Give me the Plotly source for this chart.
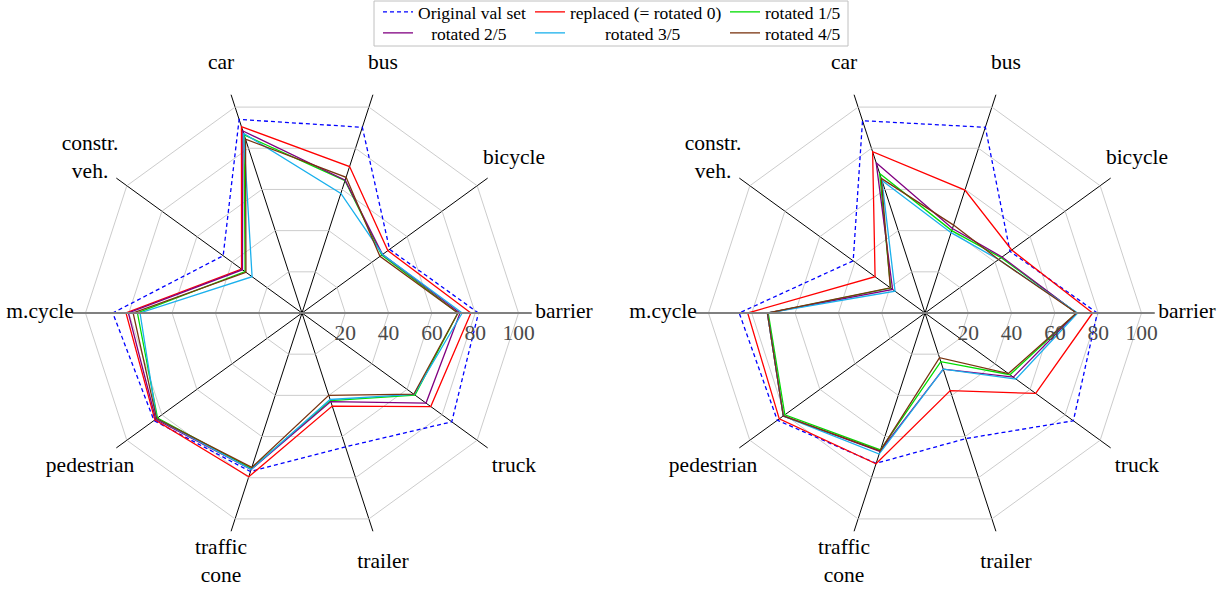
import plotly.graph_objects as go

categories = ["barrier", "bicycle", "bus", "car", "constr.<br>veh.", "m.cycle",
              "pedestrian", "traffic<br>cone", "trailer", "truck"]
series_names = ["Original val set", "replaced (= rotated 0)", "rotated 1/5",
                "rotated 2/5", "rotated 3/5", "rotated 4/5"]
radial_ticks = [20, 40, 60, 80, 100]

# Left chart values (order follows categories)
left_original = [81.5, 50.0, 90.2, 94.0, 45.0, 87.4, 84.5, 77.0, 65.0, 85.5]
left_replaced = [78.0, 49.0, 71.1, 90.5, 34.5, 81.3, 84.0, 79.5, 45.2, 73.5]
left_rot1 = [72.0, 45.5, 64.3, 86.5, 32.5, 76.0, 82.5, 75.5, 42.5, 64.5]
left_rot2 = [73.0, 46.0, 64.5, 88.4, 34.0, 80.2, 83.5, 76.0, 43.0, 70.8]
left_rot3 = [74.0, 46.0, 58.1, 87.3, 28.5, 74.8, 83.0, 76.0, 42.0, 64.0]
left_rot4 = [72.0, 44.5, 65.9, 84.4, 32.0, 78.0, 83.0, 75.0, 40.0, 63.8]

# Right chart values
right_original = [79.6, 48.5, 90.2, 93.4, 41.0, 85.8, 84.3, 73.0, 61.0, 84.7]
right_replaced = [77.4, 49.5, 59.7, 78.3, 28.5, 81.9, 83.2, 73.2, 37.7, 63.2]
right_rot1 = [70.0, 43.5, 40.0, 67.8, 19.6, 72.4, 80.0, 66.5, 23.6, 48.5]
right_rot2 = [70.0, 44.0, 41.0, 73.0, 18.5, 72.8, 80.9, 67.2, 27.3, 50.4]
right_rot3 = [70.5, 42.0, 39.0, 64.3, 17.1, 72.8, 80.9, 68.5, 27.3, 51.9]
right_rot4 = [70.0, 42.0, 42.7, 65.4, 19.8, 72.8, 80.9, 67.0, 21.7, 47.6]

left_series = [left_original, left_replaced, left_rot1, left_rot2, left_rot3, left_rot4]
right_series = [right_original, right_replaced, right_rot1, right_rot2, right_rot3, right_rot4]

colors = ["#0000ff", "#ff0000", "#00dd00", "#800080", "#1ab0ec", "#7a3410"]
dashes = ["4px,3px", "solid", "solid", "solid", "solid", "solid"]

SERIF = "Liberation Serif, Times New Roman, serif"
R_MAX = 106          # extent of the spokes
LABEL_R = 121        # radius at which category labels are centred
LABEL_RANGE = 130    # range of the invisible label layer
W, H = 1231, 598
rad_px = 229.5
label_rad_px = rad_px * LABEL_RANGE / R_MAX

# legend cell layout: (left px, centre y px, leading pad spaces)
legend_cells = [(378, 12, 0), (530, 12, 0), (725, 12, 0),
                (378, 33, 3), (530, 33, 8), (725, 33, 0)]
legend_ids = ["legend"] + ["legend%d" % k for k in range(2, 7)]

fig = go.Figure()
theta_closed = categories + [categories[0]]

for i, name in enumerate(series_names):
    vals = left_series[i]
    pad = "\u00a0" * legend_cells[i][2]
    fig.add_trace(go.Scatterpolar(
        r=vals + [vals[0]], theta=theta_closed, mode="lines", name=pad + name,
        line=dict(color=colors[i], width=1.3, dash=dashes[i]),
        subplot="polar", legend=legend_ids[i], showlegend=True))
for i, name in enumerate(series_names):
    vals = right_series[i]
    fig.add_trace(go.Scatterpolar(
        r=vals + [vals[0]], theta=theta_closed, mode="lines", name=name,
        line=dict(color=colors[i], width=1.3, dash=dashes[i]),
        subplot="polar2", showlegend=False))
# empty traces to activate overlay subplots carrying the left half of the axis line
for sp in ["polar3", "polar4"]:
    fig.add_trace(go.Scatterpolar(r=[], theta=[], subplot=sp, showlegend=False))
# category labels, centred on a circle outside the axes (invisible wider layer)
for sp in ["polar5", "polar6"]:
    fig.add_trace(go.Scatterpolar(
        r=[LABEL_R] * len(categories), theta=categories, text=categories,
        mode="text", textposition="middle center", cliponaxis=False,
        textfont=dict(family=SERIF, size=21.5, color="black"),
        hoverinfo="skip", subplot=sp, showlegend=False))


def domain(cx, cy, rp):
    return dict(x=[(cx - rp) / W, (cx + rp) / W],
                y=[(H - cy - rp) / H, (H - cy + rp) / H])


def polar_layout(cx, cy):
    return dict(
        domain=domain(cx, cy, rad_px),
        bgcolor="white",
        gridshape="linear",
        radialaxis=dict(range=[0, R_MAX], tickvals=radial_ticks, angle=0,
                        showline=True, linecolor="#808080", linewidth=2,
                        gridcolor="#cccccc", gridwidth=1, ticks="",
                        tickfont=dict(family=SERIF, size=21.5, color="#4a4a4a")),
        angularaxis=dict(categoryorder="array", categoryarray=categories,
                         direction="counterclockwise", rotation=0,
                         showline=False, gridcolor="#000000", gridwidth=1,
                         ticks="", showticklabels=False),
    )


def overlay_layout(cx, cy):
    return dict(
        domain=domain(cx, cy, rad_px),
        bgcolor="rgba(0,0,0,0)",
        gridshape="linear",
        radialaxis=dict(range=[0, R_MAX], angle=180, showline=True,
                        linecolor="#808080", linewidth=2, showgrid=False,
                        showticklabels=False, ticks=""),
        angularaxis=dict(visible=False, showgrid=False, showline=False,
                         direction="counterclockwise", rotation=0),
    )


def label_layout(cx, cy):
    return dict(
        domain=domain(cx, cy, label_rad_px),
        bgcolor="rgba(0,0,0,0)",
        radialaxis=dict(range=[0, LABEL_RANGE], visible=False),
        angularaxis=dict(categoryorder="array", categoryarray=categories,
                         direction="counterclockwise", rotation=0,
                         visible=False),
    )


layout_kwargs = dict(
    width=W, height=H,
    margin=dict(l=0, r=0, t=0, b=0, autoexpand=False),
    paper_bgcolor="white",
    polar=polar_layout(302, 313),
    polar2=polar_layout(925, 313),
    polar3=overlay_layout(302, 313),
    polar4=overlay_layout(925, 313),
    polar5=label_layout(302, 313),
    polar6=label_layout(925, 313),
    shapes=[dict(type="rect", xref="paper", yref="paper",
                 x0=374 / W, x1=848 / W, y0=1 - 46 / H, y1=1 - 1 / H,
                 line=dict(color="#c0c0c0", width=1))],
)
for lid, (lx, ly, _) in zip(legend_ids, legend_cells):
    layout_kwargs[lid] = dict(
        orientation="h", xanchor="left", x=lx / W, yanchor="middle", y=1 - ly / H,
        bgcolor="rgba(0,0,0,0)", borderwidth=0, itemwidth=30,
        font=dict(family=SERIF, size=17.5, color="black"))

fig.update_layout(**layout_kwargs)
fig.write_html("out.html", config={"displayModeBar": False},
               post_script="document.body.style.margin='0';")
